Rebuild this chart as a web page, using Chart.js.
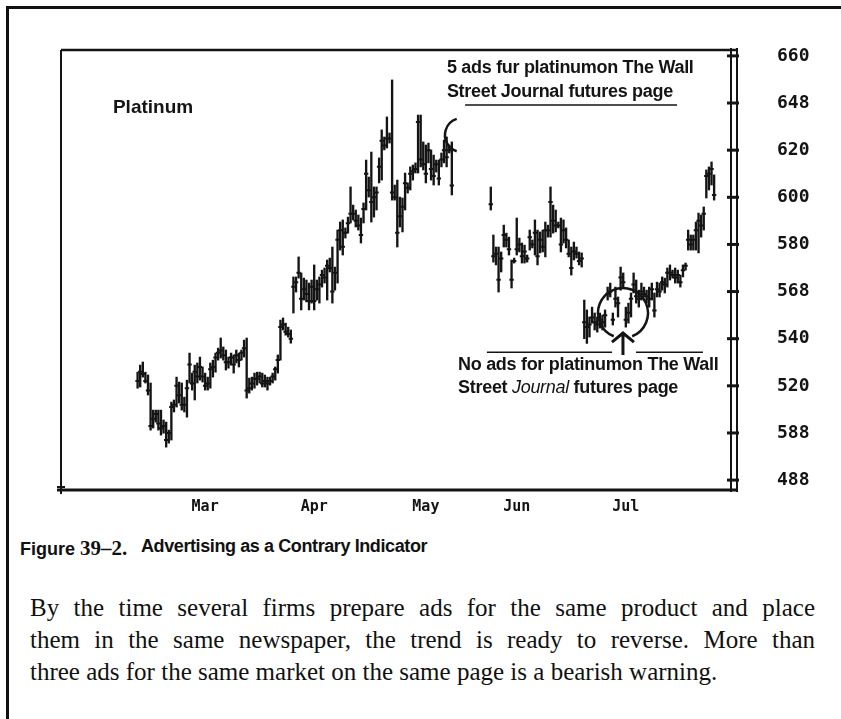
<!DOCTYPE html>
<html>
<head>
<meta charset="utf-8">
<script src="https://cdn.jsdelivr.net/npm/chart.js@4.4.1/dist/chart.umd.min.js"></script>
<style>
  body { margin: 0; width: 841px; height: 719px; overflow: hidden; background: #fff; position: relative; color: #111; }
  #frame { position: absolute; left: 6px; top: 6px; width: 900px; height: 800px; border-top: 3px solid #111; border-left: 3px solid #111; }
  #platChart { position: absolute; left: 0; top: 0; }
  #caption { position: absolute; left: 20px; top: 536px; white-space: nowrap; font: bold 18px "Liberation Sans", Arial, sans-serif; }
  #caption .num { font: bold 21px "Liberation Serif", serif; }
  #caption .ttl { position: absolute; left: 121px; top: 0; letter-spacing: -0.4px; }
  #para { position: absolute; left: 30px; top: 592px; width: 785px; font: 25px/32px "Liberation Serif", "Times New Roman", serif; }
  #para div { white-space: nowrap; }
  #para .full { text-align: justify; text-align-last: justify; }
</style>
</head>
<body>
<div id="frame"></div>
<canvas id="platChart" width="841" height="525"></canvas>
<div id="caption">Figure <span class="num">39–2.</span><span class="ttl">Advertising as a Contrary Indicator</span></div>
<div id="para">
  <div class="full">By the time several firms prepare ads for the same product and place</div>
  <div class="full">them in the same newspaper, the trend is ready to reverse. More than</div>
  <div>three ads for the same market on the same page is a bearish warning.</div>
</div>
<script>
// daily platinum bars, one slot per trading day
const slotCount = 258;
const firstSlot = 29;

const highs = [
  525.8, 528.8, 530.1, 525.8, 524.6, 521.2, 509.7, 509.7, 509.7, 509.7,
  505.5, 504.6, 501.2, 513.1, 514.0, 523.7, 521.6, 521.2, 515.2, 522.4,
  533.9, 525.4, 528.8, 529.7, 532.2, 528.0, 525.4, 523.7, 529.7, 530.9,
  533.9, 536.0, 540.3, 536.5, 535.2, 532.2, 533.9, 533.1, 535.2, 533.9,
  535.2, 539.4, 540.3, 523.3, 523.7, 525.4, 525.8, 525.8, 525.4, 524.6,
  523.7, 523.7, 525.4, 528.0, 533.1, 547.9,
  548.8, 546.6, 544.9, 543.7, 566.2, 566.2, 574.7, 567.9, 565.7, 564.9,
  563.6, 564.9, 571.3, 564.9, 566.2, 569.1, 570.0, 573.4, 574.2, 578.9,
  570.4, 586.1, 589.5, 590.4, 587.0, 591.6, 604.4, 596.7, 594.6, 592.5,
  591.2, 597.6, 615.8, 608.6, 619.2, 604.4, 604.4, 616.7, 628.6, 625.6,
  634.1, 627.3, 649.8, 605.2, 607.3, 600.1, 599.7, 610.3, 606.1, 612.9,
  613.7, 614.6, 634.9, 634.9, 623.5, 622.2, 623.0, 620.1, 617.9, 615.8,
  615.8, 618.8, 624.3, 625.6, 622.2, 623.5,
  null, null, null, null, null, null, null, null, null, null, null, null, null, null,
  604.4, 584.0, 578.9, 578.9, 576.8, 588.2, 584.8, 583.1, 573.4, 574.2,
  591.2, 582.7, 580.6, 579.7, 575.5, 586.1, 581.9, 590.4, 586.1, 585.3,
  586.1, 589.5, 588.2, 604.4, 596.7, 594.6, 589.5, 591.2, 590.4, 587.0,
  581.9, 578.9, 581.0, 578.9, 576.8, 576.4,
  556.4, 552.2, 549.2, 553.4, 550.9, 549.2, 550.9, 550.0, 552.2, 561.9,
  563.6, 550.9, 561.9, 557.7, 570.4, 567.9, 553.4, 555.1, 559.4, 567.9,
  564.9, 560.6, 563.6, 561.9, 560.6, 561.9, 563.6, 559.4, 564.0, 563.6,
  566.2, 565.7, 570.0, 571.3, 569.1, 570.0, 569.1, 567.0, 571.3, 572.1,
  586.1, 584.0, 584.0, 589.5, 593.3, 592.5, 595.9, 611.6, 612.9, 615.0,
  609.5
];

const lows = [
  519.0, 519.5, 523.7, 521.2, 516.1, 501.2, 502.1, 504.6, 501.2, 499.1,
  499.9, 494.0, 495.7, 497.0, 508.9, 511.0, 512.7, 509.7, 508.9, 506.7,
  521.2, 518.2, 514.0, 521.2, 522.4, 521.6, 518.2, 518.2, 519.0, 523.7,
  525.8, 530.9, 531.8, 530.9, 526.7, 527.5, 528.8, 525.4, 529.7, 528.0,
  530.9, 532.2, 514.8, 516.9, 518.2, 519.0, 520.3, 521.2, 519.5, 519.5,
  518.2, 520.3, 521.2, 522.4, 525.4, 530.9,
  543.7, 541.5, 540.7, 538.1, 550.9, 559.8, 565.7, 552.2, 556.4, 555.6,
  552.2, 555.1, 552.2, 556.4, 555.1, 561.9, 563.6, 556.4, 568.3, 555.1,
  560.6, 563.6, 577.6, 575.5, 582.7, 584.8, 589.1, 590.4, 587.4, 586.1,
  580.6, 589.1, 594.6, 600.1, 589.5, 591.6, 594.6, 606.1, 607.3, 620.1,
  620.9, 623.0, 598.8, 598.8, 578.9, 587.4, 585.3, 594.6, 601.8, 603.1,
  607.3, 610.3, 610.3, 612.9, 611.6, 606.1, 614.6, 607.3, 605.2, 610.7,
  605.2, 612.9, 614.6, 612.9, 618.8, 601.0,
  null, null, null, null, null, null, null, null, null, null, null, null, null, null,
  594.6, 572.5, 571.3, 559.8, 568.3, 578.9, 578.9, 575.5, 561.5, 572.1,
  575.5, 576.8, 572.1, 572.1, 572.5, 577.6, 578.5, 575.5, 571.3, 576.4,
  576.8, 574.7, 583.1, 583.1, 584.8, 585.3, 587.0, 576.8, 580.6, 578.5,
  574.7, 567.0, 573.4, 574.2, 571.3, 570.4,
  540.0, 538.0, 540.7, 546.6, 543.7, 542.8, 544.5, 543.7, 544.9, 556.4,
  557.7, 545.8, 553.4, 549.2, 560.6, 561.9, 544.9, 546.6, 549.2, 559.4,
  555.1, 553.4, 556.4, 557.7, 555.1, 553.4, 556.4, 549.2, 557.7, 557.7,
  560.6, 559.4, 561.9, 564.9, 565.7, 563.6, 563.6, 561.9, 566.2, 569.1,
  577.6, 577.6, 577.6, 577.6, 576.4, 583.1, 586.1, 599.7, 603.1, 605.2,
  598.8
];

const closes = [
  522, 526, 525, 522, 518, 503, 506, 508, 504, 502,
  503, 497, 500, 511, 512, 520, 516, 512, 512, 519,
  529, 521, 526, 524, 528, 524, 520, 521, 527, 528,
  532, 534, 535, 533, 530, 530, 532, 529, 533, 531,
  534, 536, 518, 519, 521, 523, 523, 524, 521, 522,
  521, 522, 524, 527, 531, 545,
  546, 543, 542, 540, 562, 564, 568, 557, 561, 559,
  556, 562, 556, 561, 563, 567, 566, 571, 570, 560,
  568, 582, 586, 579, 585, 589, 593, 593, 590, 588,
  584, 595, 610, 603, 598, 600, 602, 613, 624, 622,
  625, 625, 602, 600, 585, 592, 596, 606, 604, 610,
  611, 612, 632, 616, 614, 610, 620, 612, 609, 614,
  608, 616, 620, 617, 620, 605,
  null, null, null, null, null, null, null, null, null, null, null, null, null, null,
  597, 575, 576, 565, 574, 584, 582, 578, 565, 573,
  578, 580, 575, 577, 574, 583, 580, 585, 575, 582,
  579, 586, 586, 598, 590, 588, 588, 580, 586, 582,
  576, 570, 577, 576, 573, 574,
  547, 545, 546, 549, 547, 546, 548, 547, 550, 559,
  560, 548, 557, 555, 566, 564, 548, 551, 557, 563,
  558, 557, 560, 559, 558, 557, 561, 552, 561, 560,
  564, 563, 568, 568, 567, 566, 567, 564, 569, 571,
  582, 580, 582, 586, 590, 588, 593, 609, 610, 612,
  601
];

const months = ["Mar", "Apr", "May", "Jun", "Jul"];
const monthSlots = [55, 97, 140, 175, 217];

const tickValues = [480, 500, 520, 540, 560, 580, 600, 620, 640, 660];
const tickText = ["488", "588", "520", "540", "568", "580", "600", "620", "648", "660"];

function padSlots(arr) {
  const out = new Array(slotCount).fill(null);
  arr.forEach((v, i) => { out[firstSlot + i] = v; });
  return out;
}

const hiSlots = padSlots(highs);
const loSlots = padSlots(lows);
const clSlots = padSlots(closes);
const ranges = loSlots.map((lo, i) => lo == null ? null : [lo, hiSlots[i]]);
const slotLabels = Array.from({ length: slotCount }, (_, i) => String(i));

const ink = "#141414";

// box, right-hand double rule and the hand-drawn notes
const notes = {
  id: "notes",
  afterDraw(chart) {
    const { ctx, chartArea: a, scales: { x, y } } = chart;
    const px = v => x.getPixelForValue(v);
    const py = v => y.getPixelForValue(v);
    ctx.save();
    ctx.strokeStyle = ink;
    ctx.fillStyle = ink;
    ctx.lineCap = "butt";

    // frame
    ctx.lineWidth = 2;
    ctx.beginPath();
    ctx.moveTo(a.left, a.bottom); ctx.lineTo(a.left, a.top);
    ctx.stroke();
    ctx.lineWidth = 2.5;
    ctx.beginPath();
    ctx.moveTo(a.left, a.top); ctx.lineTo(a.right + 7, a.top);
    ctx.stroke();
    ctx.lineWidth = 3;
    ctx.beginPath();
    ctx.moveTo(a.left - 4, a.bottom); ctx.lineTo(a.right + 7, a.bottom);
    ctx.stroke();
    ctx.lineWidth = 2;
    ctx.beginPath();
    ctx.moveTo(a.right, a.top - 2); ctx.lineTo(a.right, a.bottom + 2);
    ctx.moveTo(a.right + 6, a.top - 2); ctx.lineTo(a.right + 6, a.bottom + 2);
    ctx.stroke();
    // little corner tick
    ctx.beginPath();
    ctx.moveTo(a.left - 4, a.bottom - 3); ctx.lineTo(a.left + 4, a.bottom - 3);
    ctx.moveTo(a.left, a.bottom - 3); ctx.lineTo(a.left, a.bottom + 4);
    ctx.stroke();
    // price ticks across the double rule
    ctx.lineWidth = 3;
    tickValues.forEach(v => {
      const ty = py(v);
      ctx.beginPath();
      ctx.moveTo(a.right - 4, ty); ctx.lineTo(a.right + 8, ty);
      ctx.stroke();
    });

    // labels
    ctx.textBaseline = "middle";
    ctx.textAlign = "left";
    ctx.font = 'bold 19px "Liberation Sans", Arial, sans-serif';
    ctx.fillText("Platinum", px(19.5), py(637.9));

    ctx.font = 'bold 18px "Liberation Sans", Arial, sans-serif';
    ctx.letterSpacing = "-0.3px";
    ctx.fillText("5 ads fur platinumon The Wall", px(148.1), py(654.9));
    ctx.fillText("Street Journal futures page", px(148.1), py(644.7));
    ctx.fillText("No ads for platinumon The Wall", px(152.4), py(528.8));
    let sx = px(152.4);
    const sy = py(519.0);
    ctx.fillText("Street ", sx, sy);
    sx += ctx.measureText("Street ").width;
    ctx.font = 'italic 18px "Liberation Sans", Arial, sans-serif';
    ctx.fillText("Journal", sx, sy);
    sx += ctx.measureText("Journal ").width;
    ctx.font = 'bold 18px "Liberation Sans", Arial, sans-serif';
    ctx.fillText("futures page", sx, sy);
    ctx.letterSpacing = "0px";

    // rules under and over the notes
    ctx.lineWidth = 1.5;
    ctx.beginPath();
    ctx.moveTo(px(155.1), py(639.2)); ctx.lineTo(px(236.7), py(639.2));
    ctx.moveTo(px(163.5), py(534.3)); ctx.lineTo(px(211.7), py(534.3));
    ctx.moveTo(px(220.9), py(534.3)); ctx.lineTo(px(246.7), py(534.3));
    ctx.stroke();

    // bracket at the May top
    ctx.lineWidth = 2.5;
    ctx.beginPath();
    ctx.arc(px(153.9), py(626.4), 17, 0.6 * Math.PI, 1.4 * Math.PI);
    ctx.stroke();

    // ring round the July low and the arrow under it
    const cx = px(215.9), cy = py(550.9);
    ctx.beginPath();
    ctx.arc(cx, cy, 25, 0.62 * Math.PI, 2.38 * Math.PI);
    ctx.stroke();
    const tipY = py(542.4);
    ctx.lineWidth = 3;
    ctx.beginPath();
    ctx.moveTo(cx, py(533.1)); ctx.lineTo(cx, tipY);
    ctx.moveTo(cx - 11, tipY + 9); ctx.lineTo(cx, tipY); ctx.lineTo(cx + 11, tipY + 9);
    ctx.stroke();

    ctx.restore();
  }
};

const ctx = document.getElementById("platChart").getContext("2d");
const chart = new Chart(ctx, {
  data: {
    labels: slotLabels,
    datasets: [
      {
        type: "bar",
        data: ranges,
        backgroundColor: ink,
        barThickness: 1.7,
        borderWidth: 0
      },
      {
        type: "line",
        data: clSlots,
        showLine: false,
        pointStyle: "line",
        pointRadius: 2.2,
        pointBorderWidth: 2,
        pointBorderColor: ink,
        pointHoverRadius: 0
      }
    ]
  },
  options: {
    responsive: false,
    animation: false,
    events: [],
    layout: { padding: { left: 61, top: 50, right: 0, bottom: 0 } },
    plugins: {
      legend: { display: false },
      tooltip: { enabled: false }
    },
    scales: {
      x: {
        type: "category",
        offset: true,
        grid: { display: false, drawTicks: false },
        border: { display: false },
        ticks: {
          autoSkip: false,
          maxRotation: 0,
          minRotation: 0,
          padding: 8,
          color: ink,
          font: { family: "'DejaVu Sans Mono', monospace", weight: "bold", size: 15 },
          callback: (val, i) => {
            const k = monthSlots.indexOf(i);
            return k >= 0 ? months[k] : "";
          }
        },
        afterFit: s => { s.height = 35; }
      },
      y: {
        type: "linear",
        position: "right",
        min: 475.8,
        max: 662.5,
        // invisible tick marks push the labels out past the double rule
        grid: { display: true, drawOnChartArea: false, drawTicks: true, tickLength: 46, tickColor: "rgba(0,0,0,0)" },
        border: { display: false },
        afterBuildTicks: s => { s.ticks = tickValues.map(v => ({ value: v })); },
        ticks: {
          padding: 0,
          color: ink,
          font: { family: "'DejaVu Sans Mono', monospace", weight: "bold", size: 18 },
          callback: v => tickText[tickValues.indexOf(v)]
        },
        afterFit: s => { s.width = 110; }
      }
    }
  },
  plugins: [notes]
});
</script>
</body>
</html>
